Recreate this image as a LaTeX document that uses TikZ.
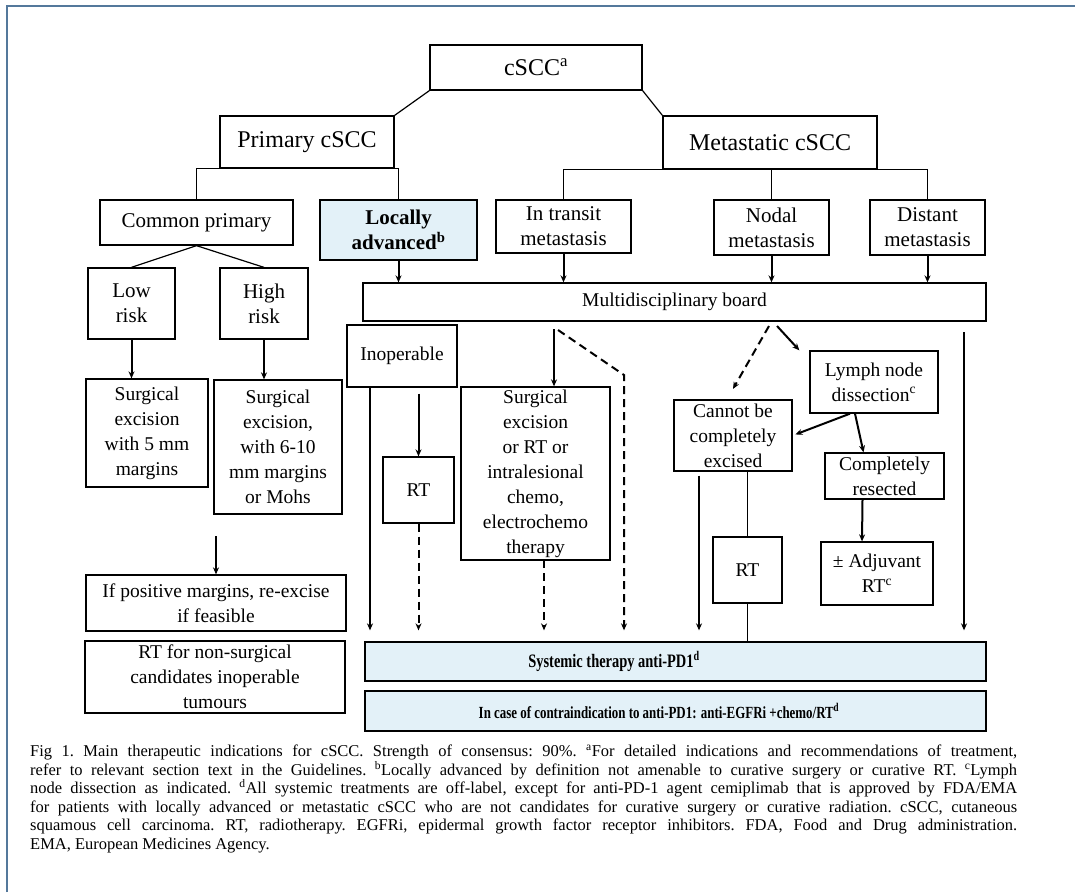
\documentclass[tikz,border=0pt]{standalone}
\usepackage{fontspec}
\setmainfont{Liberation Serif}
\newfontfamily\narrowserif[FakeStretch=0.76]{Liberation Serif}
\usetikzlibrary{arrows.meta}
\definecolor{paleblue}{HTML}{E3F1F8}
\definecolor{framecol}{HTML}{54789B}
\begin{document}
\begin{tikzpicture}[x=1pt,y=-1pt,
    box/.style={draw,line width=1.3pt,align=center,inner sep=0pt},
    shaded/.style={box,fill=paleblue},
    sz/.style 2 args={minimum width=#1,minimum height=#2},
    fbig/.style={font=\fontsize{24}{28}\selectfont},
    fmid/.style={font=\fontsize{21}{25}\selectfont},
    fsmall/.style={font=\fontsize{19.5}{25}\selectfont},
    link/.style={line width=1.2pt},
    arr/.style={line width=2pt,-{Stealth[length=7pt,width=6pt]}},
    darr/.style={arr,dash pattern=on 8pt off 5pt}]
  \useasboundingbox (0,0) rectangle (1075,892);
  \draw[framecol,line width=2.2pt] (7,892) -- (7,6) -- (1075,6);
  % top levels
  \node[box,fbig,sz={212}{45}] (cscc) at (536,67.5) {cSCC\textsuperscript{a}};
  \node[box,fbig,sz={174}{52}] (prim) at (307,142) {Primary cSCC};
  \node[box,fbig,sz={214}{53}] (meta) at (770,142.5) {Metastatic cSCC};
  \node[box,fmid,sz={193}{45}] (common) at (196.5,222.5) {Common primary};
  \node[shaded,font=\bfseries\fontsize{21}{25}\selectfont,sz={157}{60}] (locadv) at (398.5,230) {Locally\\advanced\textsuperscript{b}};
  \node[box,fmid,sz={135}{53}] (transit) at (563.5,226.5) {In transit\\metastasis};
  \node[box,fmid,sz={115}{55}] (nodal) at (771.5,227.5) {Nodal\\metastasis};
  \node[box,fmid,sz={115}{55}] (distant) at (927.5,227.5) {Distant\\metastasis};
  \node[box,fmid,sz={87}{71}] (low) at (131.5,303.5) {Low\\risk};
  \node[box,fmid,sz={88}{71}] (high) at (264,303.5) {High\\risk};
  \node[box,fsmall,sz={623}{38}] (mdb) at (674.5,302) {Multidisciplinary board};
  % primary side
  \node[box,fsmall,sz={122}{108}] (surglow) at (147,433) {Surgical\\excision\\with 5 mm\\margins};
  \node[box,fsmall,sz={128}{134}] (surghigh) at (278,447) {Surgical\\excision,\\with 6-10\\mm margins\\or Mohs};
  \node[box,fsmall,sz={260}{56}] (posmarg) at (216,603) {If positive margins, re-excise\\if feasible};
  \node[box,fsmall,sz={260}{72}] (rtnonsurg) at (215,677) {RT for non-surgical\\candidates inoperable\\tumours};
  \node[box,fsmall,sz={110}{62}] (inop) at (402,356) {Inoperable};
  \node[box,fsmall,sz={71}{66}] (rtleft) at (418.5,490) {RT};
  \node[box,fsmall,sz={149}{173}] (surgtransit) at (535.5,473.5) {Surgical\\excision\\or RT or\\intralesional\\chemo,\\electrochemo\\therapy};
  % nodal side
  \node[box,fsmall,sz={128}{62}] (lymph) at (874,382) {Lymph node\\dissection\textsuperscript{c}};
  \node[box,fsmall,sz={118}{71}] (cannot) at (733,435.5) {Cannot be\\completely\\excised};
  \node[box,fsmall,sz={119}{46}] (complres) at (884.5,476) {Completely\\resected};
  \node[box,fsmall,sz={112}{63}] (adjuvant) at (877,573.5) {± Adjuvant\\RT\textsuperscript{c}};
  \node[box,fsmall,sz={69}{66}] (rtright) at (747.5,570) {RT};
  % systemic
  \node[shaded,font=\narrowserif\bfseries\fontsize{19}{22}\selectfont,sz={621}{39}] (systemic) at (675.5,661.5) {Systemic therapy anti-PD1\textsuperscript{d}\rule{123pt}{0pt}};
  \node[shaded,font=\narrowserif\bfseries\fontsize{17}{22}\selectfont,sz={621}{40}] (contra) at (675.5,711) {In case of contraindication to anti-PD1: anti-EGFRi +chemo/RT\textsuperscript{d}\rule{33pt}{0pt}};
  % tree lines
  \draw[link] (cscc.south west) -- (prim.north east);
  \draw[link] (cscc.south east) -- (meta.north west);
  \draw[link] (common.north) |- (prim.south) -| (locadv.north);
  \draw[link] (transit.north) |- (meta.south) -| (distant.north);
  \draw[link] (nodal.north) -- (nodal.north |- meta.south);
  \draw[link] (common.south) -- (low.north);
  \draw[link] (common.south) -- (high.north);
  \foreach \n in {locadv,transit,nodal,distant}
    \draw[arr] (\n.south) -- (\n.south |- mdb.north);
  % primary arrows
  \draw[arr] (low.south) -- (low.south |- surglow.north);
  \draw[arr] (high.south) -- (high.south |- surghigh.north);
  \coordinate (pm) at (216,536);
  \draw[arr] (pm) -- (posmarg.north);
  % locally advanced / in transit
  \coordinate (a1) at (370,387);
  \draw[arr,shorten >=11pt] (a1) -- (a1 |- systemic.north);
  \draw[arr,shorten <=6pt] (rtleft.north |- inop.south) -- (rtleft.north);
  \draw[darr,shorten >=11pt] (rtleft.south) -- (rtleft.south |- systemic.north);
  \coordinate (a2) at (554,321);
  \draw[arr,shorten <=8pt] (a2) -- (a2 |- surgtransit.north);
  \coordinate (a3) at (544,560);
  \draw[darr,shorten >=11pt] (a3) -- (a3 |- systemic.north);
  \coordinate (d1) at (558,330);
  \coordinate (d2) at (624,375);
  \draw[darr,shorten >=11pt] (d1) -- (d2) -- (d2 |- systemic.north);
  % nodal / distant
  \coordinate (n1) at (769,326);
  \draw[darr,shorten >=12pt] (n1) -- ([xshift=-6pt]cannot.north);
  \coordinate (n2) at (777,326);
  \draw[arr] (n2) -- ([xshift=-10pt]lymph.north west);
  \draw[arr,shorten >=3pt] ([xshift=-24pt]lymph.south) -- (cannot.east);
  \draw[arr] ([xshift=-19pt]lymph.south) -- ([xshift=-21pt]complres.north);
  \draw[arr] ([xshift=-22pt]complres.south) -- ([xshift=-15pt]adjuvant.north);
  \coordinate (c1) at ([xshift=-34pt]cannot.south);
  \draw[arr,shorten <=4pt,shorten >=11pt] (c1) -- (c1 |- systemic.north);
  \draw[link] (rtright.north |- cannot.south) -- (rtright.north);
  \draw[link] (rtright.south) -- (rtright.south |- systemic.north);
  \coordinate (e1) at (964,332);
  \draw[arr,shorten >=11pt] (e1) -- (e1 |- systemic.north);
  % caption
  \node[anchor=north west,text width=987pt,align=justify,inner sep=0pt,
    font=\frenchspacing\fontsize{16.5}{18.5}\selectfont] (caption) at (30,745)
    {Fig 1. Main therapeutic indications for cSCC. Strength of consensus: 90\%. \textsuperscript{a}For detailed indications and recommendations of treatment,\linebreak
    refer to relevant section text in the Guidelines. \textsuperscript{b}Locally advanced by definition not amenable to curative surgery or curative RT. \textsuperscript{c}Lymph\linebreak
    node dissection as indicated. \textsuperscript{d}All systemic treatments are off-label, except for anti-PD-1 agent cemiplimab that is approved by FDA/EMA\linebreak
    for patients with locally advanced or metastatic cSCC who are not candidates for curative surgery or curative radiation. cSCC, cutaneous\linebreak
    squamous cell carcinoma. RT, radiotherapy. EGFRi, epidermal growth factor receptor inhibitors. FDA, Food and Drug administration.\linebreak
    EMA, European Medicines Agency.};
\end{tikzpicture}
\end{document}
